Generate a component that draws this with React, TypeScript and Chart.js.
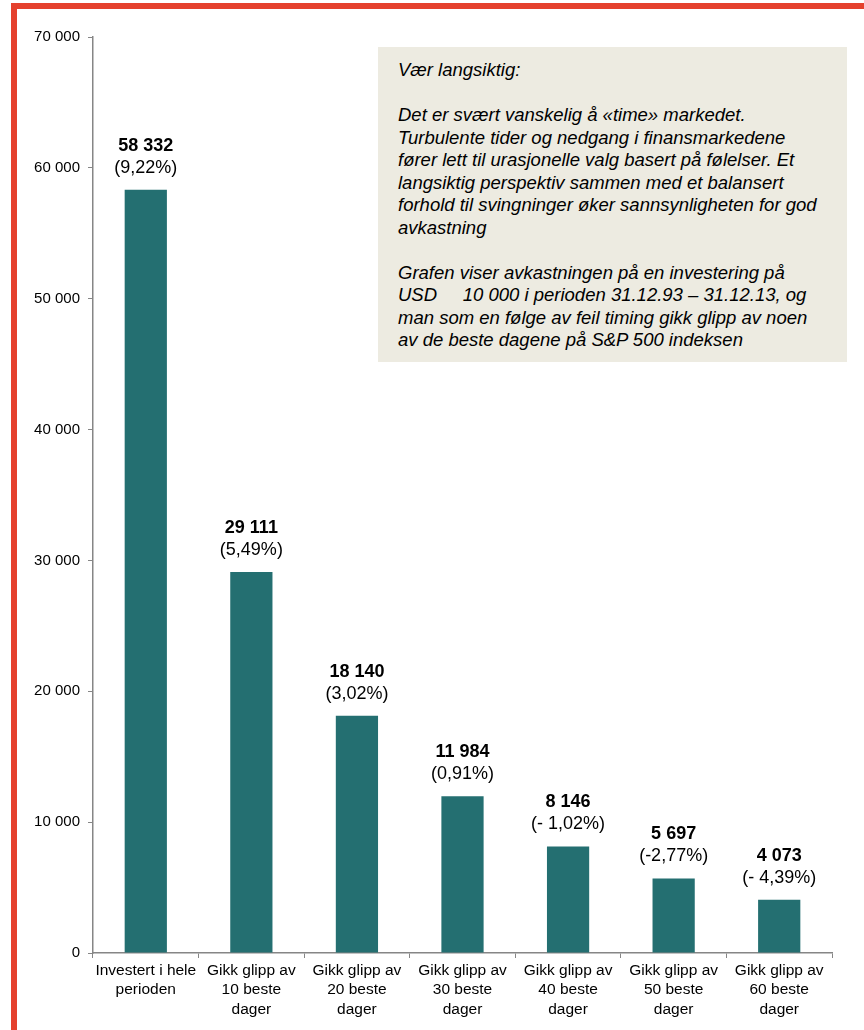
import React, { useEffect, useRef } from "react";
import { Chart, registerables } from "chart.js";

Chart.register(...registerables);

const categories: string[][] = [
  ["Investert i hele", "perioden"],
  ["Gikk glipp av", "10 beste", "dager"],
  ["Gikk glipp av", "20 beste", "dager"],
  ["Gikk glipp av", "30 beste", "dager"],
  ["Gikk glipp av", "40 beste", "dager"],
  ["Gikk glipp av", "50 beste", "dager"],
  ["Gikk glipp av", "60 beste", "dager"],
];
const values: number[] = [58332, 29111, 18140, 11984, 8146, 5697, 4073];
const returnsText: string[] = [
  "(9,22%)",
  "(5,49%)",
  "(3,02%)",
  "(0,91%)",
  "(- 1,02%)",
  "(-2,77%)",
  "(- 4,39%)",
];
const yMax = 70000;
const yStep = 10000;

const noteLines: string[] = [
  "Vær langsiktig:",
  "",
  "Det er svært vanskelig å «time» markedet.",
  "Turbulente tider og nedgang i finansmarkedene",
  "fører lett til urasjonelle valg basert på følelser. Et",
  "langsiktig perspektiv sammen med et balansert",
  "forhold til svingninger øker sannsynligheten for god",
  "avkastning",
  "",
  "Grafen viser avkastningen på en investering på",
  "USD     10 000 i perioden 31.12.93 – 31.12.13, og",
  "man som en følge av feil timing gikk glipp av noen",
  "av de beste dagene på S&P 500 indeksen",
];

const FONT = "'Liberation Sans', Arial, Helvetica, sans-serif";
const fmt = (n: number) => String(n).replace(/\B(?=(\d{3})+(?!\d))/g, " ");

const labelPlugin = {
  id: "barLabels",
  afterDatasetsDraw(chart: any) {
    const ctx = chart.ctx;
    const meta = chart.getDatasetMeta(0);
    ctx.save();
    ctx.textAlign = "center";
    ctx.textBaseline = "middle";
    ctx.fillStyle = "#000";
    meta.data.forEach((bar: any, i: number) => {
      ctx.font = `bold 18px ${FONT}`;
      ctx.fillText(fmt(values[i]), bar.x, bar.y - 44);
      ctx.font = `18px ${FONT}`;
      ctx.fillText(returnsText[i], bar.x, bar.y - 22);
    });
    ctx.restore();
  },
};

export default function App() {
  const canvasRef = useRef<HTMLCanvasElement | null>(null);

  useEffect(() => {
    if (!canvasRef.current) return;
    const chart = new Chart(canvasRef.current, {
      type: "bar",
      data: {
        labels: categories,
        datasets: [
          {
            data: values,
            backgroundColor: "#246f71",
            barPercentage: 0.5,
            categoryPercentage: 0.8,
          },
        ],
      },
      options: {
        animation: false,
        responsive: true,
        maintainAspectRatio: false,
        layout: { padding: { top: 37, right: 32, left: 0, bottom: 0 } },
        plugins: { legend: { display: false }, tooltip: { enabled: false } },
        scales: {
          x: {
            afterFit: (s: any) => {
              s.height = 77;
            },
            grid: {
              display: true,
              drawOnChartArea: false,
              drawTicks: true,
              tickLength: 5,
              color: "#868686",
              offset: true,
            },
            border: { color: "#868686", width: 1.5 },
            ticks: {
              color: "#000",
              font: { family: FONT, size: 15.5, lineHeight: 1.25 },
              padding: 3,
              maxRotation: 0,
              autoSkip: false,
            },
          },
          y: {
            min: 0,
            max: yMax,
            afterFit: (s: any) => {
              s.width = 93;
            },
            grid: {
              display: true,
              drawOnChartArea: false,
              drawTicks: true,
              tickLength: 5,
              color: "#868686",
            },
            border: { color: "#868686", width: 1.5 },
            ticks: {
              stepSize: yStep,
              color: "#000",
              font: { family: FONT, size: 15 },
              padding: 8,
              callback: (v: any) => fmt(Number(v)),
            },
          },
        },
      },
      plugins: [labelPlugin],
    });
    return () => chart.destroy();
  }, []);

  return (
    <div
      style={{
        position: "absolute",
        left: 0,
        top: 0,
        width: 864,
        height: 1030,
        overflow: "hidden",
        background: "#fff",
      }}
    >
      <div
        style={{
          position: "absolute",
          left: 11,
          top: 3,
          width: 860,
          height: 1060,
          border: "6px solid #e5412d",
          boxSizing: "border-box",
        }}
      />
      <div style={{ position: "absolute", left: 0, top: 0, width: 864, height: 1030 }}>
        <canvas ref={canvasRef} />
      </div>
      <div
        style={{
          position: "absolute",
          left: 378,
          top: 47,
          width: 469,
          height: 315,
          background: "#edebe1",
          boxSizing: "border-box",
          padding: "12px 0 0 20px",
          fontFamily: FONT,
          fontStyle: "italic",
          fontSize: 18.5,
          lineHeight: "22.5px",
          color: "#000",
          whiteSpace: "pre",
          overflow: "hidden",
        }}
      >
        {noteLines.map((l, i) => (
          <div key={i}>{l === "" ? "\u00a0" : l}</div>
        ))}
      </div>
    </div>
  );
}
